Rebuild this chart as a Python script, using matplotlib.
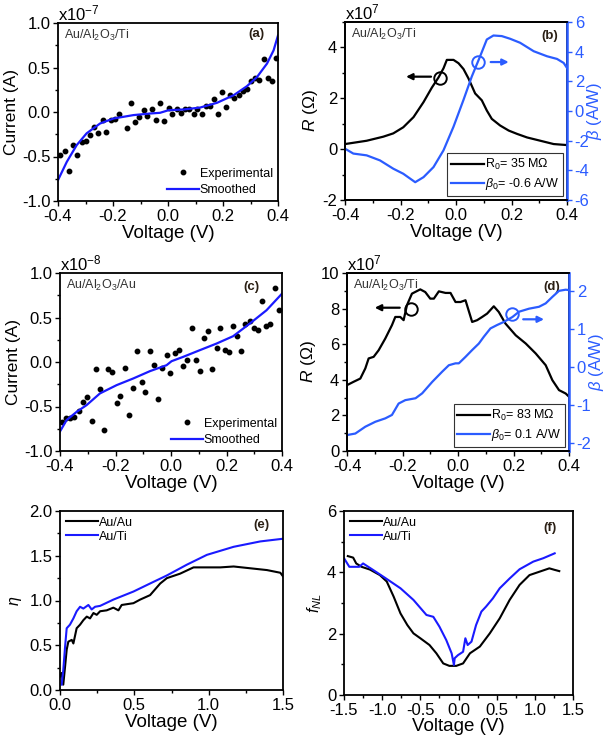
import numpy as np
import matplotlib.pyplot as plt
from matplotlib.ticker import MultipleLocator

plt.rcParams['font.family'] = ['Liberation Sans', 'DejaVu Sans']
plt.rcParams['mathtext.fontset'] = 'custom'
plt.rcParams['mathtext.rm'] = 'Liberation Sans'
plt.rcParams['mathtext.it'] = 'Liberation Sans:italic'
plt.rcParams['axes.unicode_minus'] = False

BLUE = '#1a1aff'
BLUE2 = '#2b5cff'

# (a) Au/Al2O3/Ti I-V, units of 1e-7 A
a_exp_v = [-0.393, -0.375, -0.359, -0.344, -0.33, -0.314, -0.299, -0.283, -0.268, -0.253,
           -0.238, -0.225, -0.208, -0.192, -0.178, -0.15, -0.134, -0.119, -0.104, -0.089,
           -0.075, -0.059, -0.044, -0.029, -0.014, 0.002, 0.016, 0.032, 0.047, 0.062,
           0.077, 0.093, 0.107, 0.123, 0.138, 0.154, 0.167, 0.183, 0.196, 0.212,
           0.226, 0.241, 0.257, 0.271, 0.287, 0.302, 0.317, 0.332, 0.348, 0.362,
           0.378, 0.394]
a_exp_i = [-0.484, -0.435, -0.66, -0.372, -0.484, -0.342, -0.323, -0.26, -0.166, -0.234,
           -0.092, -0.23, -0.092, -0.084, -0.028, -0.178, 0.103, -0.114, -0.054, 0.021,
           -0.047, 0.032, -0.092, 0.103, -0.103, 0.047, -0.028, 0.032, -0.009, 0.039,
           0.032, -0.017, 0.039, -0.028, 0.065, 0.065, 0.148, -0.017, 0.223, 0.058,
           0.196, 0.159, 0.196, 0.237, 0.264, 0.346, 0.387, 0.357, 0.597, 0.383,
           0.35, 0.611]
a_sm_v = [-0.4, -0.368, -0.332, -0.296, -0.247, -0.198, -0.126, -0.065, -0.029, 0.002,
          0.056, 0.117, 0.178, 0.239, 0.287, 0.324, 0.36, 0.384, 0.4]
a_sm_i = [-0.765, -0.56, -0.372, -0.24, -0.129, -0.073, -0.035, -0.017, -0.009, 0.02,
          0.028, 0.05, 0.103, 0.189, 0.29, 0.394, 0.544, 0.693, 0.86]

# (b) R (1e7 ohm) and beta (A/W), Au/Al2O3/Ti
b_r_v = [-0.4, -0.322, -0.262, -0.226, -0.19, -0.153, -0.117, -0.087, -0.063, -0.045,
         -0.033, -0.009, 0.009, 0.027, 0.045, 0.069, 0.093, 0.111, 0.129, 0.159,
         0.19, 0.22, 0.256, 0.304, 0.352, 0.4]
b_r = [0.2, 0.33, 0.49, 0.62, 0.86, 1.26, 1.85, 2.42, 2.82, 3.18,
       3.51, 3.51, 3.38, 3.15, 2.78, 2.19, 1.92, 1.52, 1.19, 0.93,
       0.73, 0.6, 0.46, 0.33, 0.2, 0.16]
b_b_v = [-0.4, -0.37, -0.322, -0.274, -0.226, -0.19, -0.147, -0.117, -0.081, -0.045,
         -0.009, 0.027, 0.057, 0.087, 0.111, 0.135, 0.165, 0.195, 0.231, 0.28,
         0.328, 0.364, 0.388, 0.4]
b_beta = [-2.54, -2.87, -2.99, -3.33, -3.89, -4.23, -4.8, -4.46, -3.78, -2.65,
          -1.06, 0.75, 2.33, 3.69, 4.82, 5.09, 5.05, 4.87, 4.6, 4.03,
          3.69, 3.51, 3.24, 2.9]

# (c) Au/Al2O3/Au I-V, units of 1e-8 A
c_exp_v = [-0.394, -0.378, -0.364, -0.35, -0.332, -0.316, -0.302, -0.286, -0.272, -0.256,
           -0.242, -0.226, -0.211, -0.196, -0.182, -0.166, -0.151, -0.136, -0.122, -0.106,
           -0.092, -0.076, -0.062, -0.046, -0.032, -0.016, -0.002, 0.014, 0.029, 0.044,
           0.058, 0.074, 0.089, 0.104, 0.118, 0.134, 0.148, 0.164, 0.178, 0.194,
           0.209, 0.224, 0.238, 0.254, 0.268, 0.284, 0.298, 0.314, 0.329, 0.344,
           0.358, 0.374, 0.389]
c_exp_i = [-0.67, -0.634, -0.634, -0.615, -0.548, -0.454, -0.39, -0.664, -0.084, -0.308,
           -0.765, -0.08, -0.11, -0.465, -0.38, -0.062, -0.596, -0.29, 0.121, -0.222,
           -0.335, 0.125, -0.036, -0.421, -0.062, 0.084, -0.121, 0.103, 0.133, -0.043,
           0.021, 0.383, 0.028, -0.099, 0.275, 0.349, -0.08, 0.159, 0.383, 0.14,
           0.114, 0.406, 0.293, 0.125, 0.432, 0.462, 0.387, 0.357, 0.686, 0.406,
           0.424, 0.832, 0.581]
c_sm_v = [-0.4, -0.376, -0.34, -0.304, -0.256, -0.196, -0.136, -0.076, -0.016, 0.002,
          0.044, 0.104, 0.164, 0.224, 0.284, 0.344, 0.4]
c_sm_i = [-0.78, -0.652, -0.56, -0.484, -0.353, -0.26, -0.185, -0.103, -0.036, 0.009,
          0.058, 0.133, 0.207, 0.29, 0.432, 0.581, 0.768]

# (d) R (1e7 ohm) and beta (A/W), Au/Al2O3/Ti
d_r_v = [-0.4, -0.376, -0.352, -0.334, -0.322, -0.304, -0.286, -0.262, -0.238, -0.226,
         -0.208, -0.196, -0.184, -0.166, -0.136, -0.118, -0.1, -0.087, -0.069, -0.045,
         -0.027, -0.009, 0.009, 0.027, 0.051, 0.069, 0.087, 0.105, 0.129, 0.147,
         0.171, 0.208, 0.244, 0.28, 0.316, 0.34, 0.364, 0.388, 0.4]
d_r = [3.7, 3.89, 4.07, 4.64, 5.2, 5.29, 5.66, 6.32, 7.07, 7.53,
       7.53, 7.35, 8.19, 8.84, 9.08, 8.93, 8.56, 8.56, 8.97, 8.88,
       8.88, 8.37, 8.37, 8.47, 7.25, 7.35, 7.53, 7.72, 8.13, 7.81,
       7.16, 6.5, 6.04, 5.48, 4.82, 3.98, 3.42, 3.23, 3.05]
d_b_v = [-0.4, -0.37, -0.334, -0.298, -0.262, -0.238, -0.214, -0.19, -0.153, -0.129,
         -0.093, -0.057, -0.033, -0.009, 0.003, 0.027, 0.051, 0.075, 0.093, 0.117,
         0.141, 0.165, 0.196, 0.22, 0.256, 0.292, 0.316, 0.34, 0.364, 0.388, 0.4]
d_beta = [-1.79, -1.75, -1.57, -1.44, -1.35, -1.26, -0.96, -0.87, -0.82, -0.69,
          -0.39, -0.12, 0.05, 0.1, 0.1, 0.27, 0.45, 0.62, 0.8, 1.02,
          1.11, 1.19, 1.32, 1.46, 1.54, 1.59, 1.68, 1.85, 2.01, 2.04, 2.03]

# (e) eta vs voltage
e_auau_v = [0, 0.011, 0.022, 0.034, 0.045, 0.056, 0.079, 0.09, 0.112, 0.135,
            0.157, 0.18, 0.202, 0.225, 0.247, 0.27, 0.314, 0.359, 0.393, 0.415,
            0.494, 0.539, 0.606, 0.674, 0.719, 0.808, 0.898, 0.988, 1.078, 1.168,
            1.28, 1.392, 1.482, 1.5]
e_auau = [0.15, 0.19, 0.06, 0.26, 0.45, 0.54, 0.56, 0.52, 0.69, 0.73,
          0.78, 0.82, 0.8, 0.86, 0.84, 0.88, 0.89, 0.92, 0.89, 0.95,
          0.97, 1.01, 1.06, 1.19, 1.25, 1.3, 1.37, 1.37, 1.37, 1.38,
          1.36, 1.34, 1.31, 1.27]
e_auti_v = [0.011, 0.022, 0.034, 0.045, 0.067, 0.09, 0.112, 0.135, 0.157, 0.191,
            0.213, 0.236, 0.27, 0.359, 0.494, 0.606, 0.719, 0.853, 0.988, 1.168,
            1.347, 1.5]
e_auti = [0.06, 0.22, 0.48, 0.69, 0.73, 0.8, 0.88, 0.93, 0.91, 0.95,
          0.9, 0.93, 0.94, 1.01, 1.1, 1.19, 1.28, 1.4, 1.51, 1.6,
          1.66, 1.69]

# (f) f_NL vs voltage
f_auau_v = [-1.45, -1.38, -1.34, -1.27, -1.16, -1.03, -0.94, -0.85, -0.76, -0.67,
            -0.59, -0.5, -0.38, -0.29, -0.2, -0.12, -0.03, 0.06, 0.15, 0.28,
            0.41, 0.54, 0.67, 0.8, 0.93, 1.06, 1.19, 1.26, 1.32]
f_auau = [4.53, 4.48, 4.29, 4.18, 4.09, 3.91, 3.7, 3.21, 2.66, 2.28,
          2.01, 1.85, 1.63, 1.36, 1.03, 0.95, 0.95, 1.03, 1.36, 1.58,
          2.01, 2.5, 3.1, 3.59, 3.91, 4.02, 4.13, 4.08, 4.04]
f_auti_v = [-1.5, -1.43, -1.3, -1.25, -1.12, -0.95, -0.76, -0.59, -0.42, -0.33,
            -0.25, -0.16, -0.09, -0.06, -0.05, -0.007, 0.06, 0.09, 0.12, 0.17,
            0.23, 0.3, 0.36, 0.45, 0.54, 0.67, 0.8, 0.98, 1.11, 1.26]
f_auti = [4.46, 4.18, 4.18, 4.29, 4.08, 3.8, 3.48, 3.1, 2.61, 2.55,
          2.23, 1.79, 1.36, 0.98, 1.2, 1.3, 1.41, 1.85, 1.63, 1.74,
          2.28, 2.72, 2.88, 3.15, 3.48, 3.8, 4.1, 4.35, 4.46, 4.62]

W, H = 606, 737
fig = plt.figure(figsize=(W / 100, H / 100), dpi=100)

TICK = 12
XLAB = 13.5
YLAB = 12.5
SMALL = 9


def box(l, r, t, b):
    return fig.add_axes([l / W, (H - b) / H, (r - l) / W, (b - t) / H])


def style(ax, xminor=0.1, yminor=None):
    for s in ax.spines.values():
        s.set_linewidth(1.3)
    ax.tick_params(which='both', direction='out', labelsize=TICK, width=1.0, pad=2)
    ax.tick_params(which='major', length=3.5)
    ax.tick_params(which='minor', length=2)
    ax.xaxis.set_minor_locator(MultipleLocator(xminor))
    if yminor:
        ax.yaxis.set_minor_locator(MultipleLocator(yminor))


def iv_panel(ax, ev, ei, sv, si, expo, sample, tag, tagpos):
    ax.plot(ev, ei, 'o', color='k', ms=3.2, label='Experimental')
    ax.plot(sv, si, '-', color=BLUE, lw=1.6, label='Smoothed')
    ax.set_xlim(-0.4, 0.4)
    ax.set_ylim(-1.0, 1.0)
    ax.set_xticks([-0.4, -0.2, 0.0, 0.2, 0.4])
    ax.set_yticks([-1.0, -0.5, 0.0, 0.5, 1.0])
    style(ax, 0.1, 0.25)
    ax.set_xlabel('Voltage (V)', fontsize=XLAB, labelpad=1)
    ax.set_ylabel('Current (A)', fontsize=YLAB, labelpad=2)
    ax.text(0.0, 1.0, 'x10$^{%s}$' % expo, transform=ax.transAxes, fontsize=TICK,
            ha='left', va='bottom')
    ax.text(0.025, 0.97, sample, transform=ax.transAxes, fontsize=SMALL,
            color='#333333', ha='left', va='top')
    ax.text(tagpos[0], tagpos[1], tag, transform=ax.transAxes, fontsize=9.5,
            weight='bold', color='#2a1f14', ha='right', va='center')
    ax.legend(loc='lower right', frameon=False, fontsize=SMALL, handlelength=2.5,
              handletextpad=0.1, borderaxespad=0.1, labelspacing=0.35,
              borderpad=0.3)


def rb_panel(ax, rv, r, bv, beta, ylim_r, rticks, ylim_b, bticks, r0, b0, tag,
             circ_r, arr_r, circ_b, arr_b):
    ax2 = ax.twinx()
    l1, = ax.plot(rv, r, color='k', lw=1.6)
    l2, = ax2.plot(bv, beta, color=BLUE2, lw=1.6)
    ax.set_xlim(-0.4, 0.4)
    ax.set_ylim(*ylim_r)
    ax.set_yticks(rticks)
    ax2.set_ylim(*ylim_b)
    ax2.set_yticks(bticks)
    ax.set_xticks([-0.4, -0.2, 0.0, 0.2, 0.4])
    style(ax, 0.1, (rticks[1] - rticks[0]) / 2)
    for s in ax2.spines.values():
        s.set_linewidth(1.3)
    ax2.spines['right'].set_color(BLUE2)
    ax2.spines['right'].set_linewidth(1.8)
    ax2.tick_params(which='both', direction='out', labelsize=TICK, colors=BLUE2,
                    width=1.0, pad=2)
    ax2.tick_params(which='major', length=3.5)
    ax.set_xlabel('Voltage (V)', fontsize=XLAB, labelpad=1)
    ax.set_ylabel('$R$ ($\\Omega$)', fontsize=YLAB, labelpad=2)
    ax2.set_ylabel('$\\beta$ (A/W)', fontsize=12, color=BLUE2, labelpad=-3)
    ax.text(0.0, 1.0, 'x10$^{7}$', transform=ax.transAxes, fontsize=TICK,
            ha='left', va='bottom')
    ax.text(0.025, 0.97, 'Au/Al$_2$O$_3$/Ti', transform=ax.transAxes, fontsize=SMALL,
            color='#333333', ha='left', va='top')
    ax.text(0.96, 0.92, tag, transform=ax.transAxes, fontsize=9.5, weight='bold',
            color='#2a1f14', ha='right', va='center')
    # circles and arrows marking the axis of each curve
    ax.plot([circ_r[0]], [circ_r[1]], 'o', ms=9, mfc='none', mec='k', mew=1.4)
    ax.annotate('', xy=arr_r[1], xytext=arr_r[0],
                arrowprops=dict(arrowstyle='-|>', color='k', lw=1.6,
                                mutation_scale=9, shrinkA=0, shrinkB=0))
    ax2.plot([circ_b[0]], [circ_b[1]], 'o', ms=9, mfc='none', mec=BLUE2, mew=1.4)
    ax2.annotate('', xy=arr_b[1], xytext=arr_b[0],
                 arrowprops=dict(arrowstyle='-|>', color=BLUE2, lw=1.6,
                                 mutation_scale=9, shrinkA=0, shrinkB=0))
    leg = ax2.legend([l1, l2], ['R$_0$= %s M$\\Omega$' % r0, '$\\beta_0$= %s A/W' % b0],
                     loc='lower right', fontsize=SMALL, fancybox=False,
                     edgecolor='#333333', handlelength=2.6, handletextpad=0.1,
                     borderaxespad=0.35, borderpad=0.3, labelspacing=0.3,
                     framealpha=1)
    leg.get_frame().set_linewidth(0.8)


# (a)
ax = box(58, 278, 23, 201)
iv_panel(ax, a_exp_v, a_exp_i, a_sm_v, a_sm_i, '-7', 'Au/Al$_2$O$_3$/Ti', '(a)',
         (0.94, 0.94))

# (b)
ax = box(345, 567, 22, 200)
rb_panel(ax, b_r_v, b_r, b_b_v, b_beta, (-2, 5), [-2, 0, 2, 4], (-6, 6),
         [-6, -4, -2, 0, 2, 4, 6], '35', '-0.6', '(b)',
         (-0.057, 2.78), ((-0.09, 2.85), (-0.18, 2.85)),
         (0.078, 3.3), ((0.125, 3.3), (0.19, 3.3)))

# (c)
ax = box(60, 282, 273, 451)
iv_panel(ax, c_exp_v, c_exp_i, c_sm_v, c_sm_i, '-8', 'Au/Al$_2$O$_3$/Au', '(c)',
         (0.9, 0.92))

# (d)
ax = box(347, 569, 273, 451)
rb_panel(ax, d_r_v, d_r, d_b_v, d_beta, (0, 10), [0, 2, 4, 6, 8, 10], (-2.21, 2.48),
         [-2, -1, 0, 1, 2], '83', '0.1', '(d)',
         (-0.171, 7.95), ((-0.21, 8.05), (-0.3, 8.05)),
         (0.196, 1.39), ((0.235, 1.26), (0.31, 1.26)))

# (e)
ax = box(60, 283, 511, 690)
ax.plot(e_auau_v, e_auau, color='k', lw=1.5, label='Au/Au')
ax.plot(e_auti_v, e_auti, color=BLUE, lw=1.5, label='Au/Ti')
ax.set_xlim(0, 1.5)
ax.set_ylim(0, 2.0)
ax.set_xticks([0.0, 0.5, 1.0, 1.5])
ax.set_yticks([0.0, 0.5, 1.0, 1.5, 2.0])
style(ax, 0.25, 0.25)
ax.set_xlabel('Voltage (V)', fontsize=XLAB, labelpad=1)
ax.set_ylabel('$\\eta$', fontsize=11.5, labelpad=4)
ax.text(0.94, 0.92, '(e)', transform=ax.transAxes, fontsize=9.5, weight='bold',
        color='#2a1f14', ha='right', va='center')
ax.legend(loc='upper left', frameon=False, fontsize=SMALL, handlelength=2.6,
          handletextpad=0.1, borderaxespad=0.15, labelspacing=0.15, borderpad=0.3)

# (f)
ax = box(344, 573, 511, 695)
ax.plot(f_auau_v, f_auau, color='k', lw=1.5, label='Au/Au')
ax.plot(f_auti_v, f_auti, color=BLUE, lw=1.5, label='Au/Ti')
ax.set_xlim(-1.5, 1.5)
ax.set_ylim(0, 6)
ax.set_xticks([-1.5, -1.0, -0.5, 0.0, 0.5, 1.0, 1.5])
ax.set_yticks([0, 2, 4, 6])
style(ax, 0.25, 1)
ax.set_xlabel('Voltage (V)', fontsize=XLAB, labelpad=0)
ax.set_ylabel('$f_{NL}$', fontsize=11.5, labelpad=2)
ax.text(0.93, 0.91, '(f)', transform=ax.transAxes, fontsize=9.5, weight='bold',
        color='#2a1f14', ha='right', va='center')
ax.legend(loc='upper left', frameon=False, fontsize=SMALL, handlelength=2.6,
          handletextpad=0.1, borderaxespad=0.15, labelspacing=0.15, borderpad=0.3)

fig.savefig('out.png', dpi=100)
